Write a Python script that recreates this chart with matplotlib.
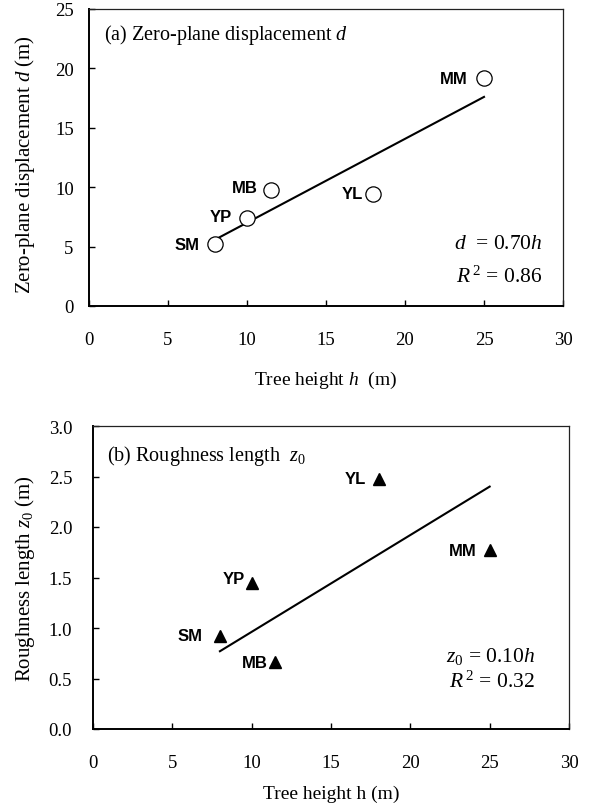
import matplotlib
matplotlib.use('Agg')
import matplotlib.pyplot as plt

plt.rcParams['font.family'] = ['Liberation Serif', 'DejaVu Serif']
plt.rcParams['mathtext.fontset'] = 'custom'
plt.rcParams['mathtext.rm'] = 'Liberation Serif'
plt.rcParams['mathtext.it'] = 'Liberation Serif:italic'

# data
sites = ['SM', 'YP', 'MB', 'YL', 'MM']
tree_h = [8.0, 10.0, 11.5, 18.0, 25.0]
disp_d = [5.2, 7.4, 9.8, 9.4, 19.2]
rough_z0 = [0.92, 1.45, 0.66, 2.48, 1.77]

fit_x = [8.0, 25.0]
fit_d = [5.6, 17.6]
fit_z0 = [0.77, 2.40]

xticks = [0, 5, 10, 15, 20, 25, 30]
yticks_a = [0, 5, 10, 15, 20, 25]
yticks_b = [0.0, 0.5, 1.0, 1.5, 2.0, 2.5, 3.0]

W, H = 592, 804
fig = plt.figure(figsize=(W / 100, H / 100), dpi=100)


def px_axes(l, t, r, b):
    return fig.add_axes([l / W, 1 - b / H, (r - l) / W, (b - t) / H])


def style(ax, ypad):
    for s in ['left', 'bottom']:
        ax.spines[s].set_linewidth(1.4)
        ax.spines[s].set_color('black')
    for s in ['top', 'right']:
        ax.spines[s].set_linewidth(0.9)
        ax.spines[s].set_color('#222222')
    ax.tick_params(direction='in', length=4.5, width=1.0, labelsize=13.5,
                   top=False, right=False)
    ax.tick_params(axis='x', pad=18)
    ax.tick_params(axis='y', pad=ypad)
    ax.set_xlim(0, 30)
    ax.set_xticks(xticks)


label_font = dict(family=['Liberation Sans', 'DejaVu Sans'], weight='bold', fontsize=12)

# (a) zero-plane displacement
ax1 = px_axes(89, 10, 563, 307)
style(ax1, 11)
ax1.set_ylim(0, 25)
ax1.set_yticks(yticks_a)
ax1.plot(fit_x, fit_d, color='black', lw=1.5, zorder=2)
ax1.plot(tree_h, disp_d, 'o', ms=11, mfc='white', mec='black', mew=0.9, zorder=3)
offs_a = {'SM': (-16, 0), 'YP': (-15, 2), 'MB': (-13, 2), 'YL': (-10, 1), 'MM': (-16, -1)}
for s, x, y in zip(sites, tree_h, disp_d):
    ax1.annotate(s, (x, y), xytext=offs_a[s], textcoords='offset pixels',
                 ha='right', va='center', **label_font)
ax1.text(0.032, 0.915, '(a) Zero-plane displacement $d$', transform=ax1.transAxes,
         fontsize=14.5, ha='left', va='center')
ax1.text(0.956, 0.209, '$d$  = 0.70$h$', transform=ax1.transAxes,
         fontsize=15.5, ha='right', va='center')
ax1.text(0.956, 0.101, '$R^{\\,2}$ = 0.86', transform=ax1.transAxes,
         fontsize=15.5, ha='right', va='center')
ax1.set_xlabel('Tree height $h$  (m)', fontsize=14)
ax1.xaxis.set_label_coords(0.5, -0.212)
ax1.set_ylabel('Zero-plane displacement $d$ (m)', fontsize=15)
ax1.yaxis.set_label_coords(-0.110, 0.48)

# (b) roughness length
ax2 = px_axes(93, 427, 569, 730)
style(ax2, 15)
ax2.set_ylim(0, 3.0)
ax2.set_yticks(yticks_b)
ax2.set_yticklabels(['%.1f' % v for v in yticks_b])
ax2.plot(fit_x, fit_z0, color='black', lw=1.5, zorder=2)
ax2.plot(tree_h, rough_z0, '^', ms=8.5, color='black', zorder=3)
offs_b = {'SM': (-17, 1), 'YP': (-7, 4), 'MB': (-8, 0), 'YL': (-13, 0), 'MM': (-13, 0)}
for s, x, y in zip(sites, tree_h, rough_z0):
    ax2.annotate(s, (x, y), xytext=offs_b[s], textcoords='offset pixels',
                 ha='right', va='center', **label_font)
ax2.text(0.03, 0.905, '(b) Roughness length  $z_0$', transform=ax2.transAxes,
         fontsize=14.5, ha='left', va='center')
ax2.text(0.929, 0.241, '$z_0$ = 0.10$h$', transform=ax2.transAxes,
         fontsize=15.5, ha='right', va='center')
ax2.text(0.929, 0.158, '$R^{\\,2}$ = 0.32', transform=ax2.transAxes,
         fontsize=15.5, ha='right', va='center')
ax2.set_xlabel('Tree height h (m)', fontsize=14)
ax2.xaxis.set_label_coords(0.5, -0.185)
ax2.set_ylabel('Roughness length $z_0$ (m)', fontsize=15)
ax2.yaxis.set_label_coords(-0.117, 0.5)

fig.savefig('out.png', dpi=100, facecolor='white')
